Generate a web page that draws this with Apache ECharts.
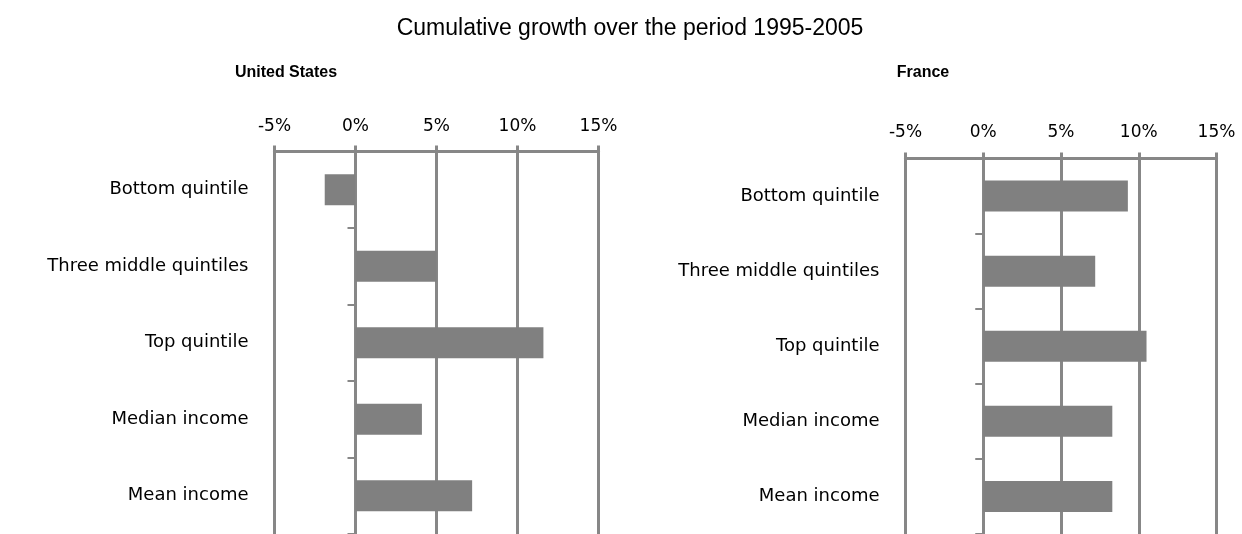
<!DOCTYPE html>
<html>
<head>
<meta charset="utf-8">
<script src="https://cdn.jsdelivr.net/npm/echarts@6/dist/echarts.min.js"></script>
<style>
    html, body { margin: 0; padding: 0; background: #fff; }
    #growthChart { width: 1242px; height: 534px; }
</style>
</head>
<body>
<div id="growthChart"></div>
<script>
// 数据
const categories = ['Bottom quintile', 'Three middle quintiles', 'Top quintile', 'Median income', 'Mean income'];
const usGrowth = [-1.9, 5.0, 11.6, 4.1, 7.2];
const franceGrowth = [9.3, 7.2, 10.5, 8.3, 8.3];
const panelNames = ['United States', 'France'];

const gridColor = '#878787';
const barColor = '#808080';
const labelFont = '"DejaVu Sans", sans-serif';
const titleFont = '"Liberation Sans", Arial, sans-serif';

/**
 * 值轴（顶部）
 */
function valueAxis(gridIndex, labelMargin) {
    return {
        type: 'value',
        gridIndex: gridIndex,
        position: 'top',
        min: -5,
        max: 15,
        interval: 5,
        axisLine: {show: true, lineStyle: {color: gridColor, width: 3}},
        axisTick: {show: true, length: 6, lineStyle: {color: gridColor, width: 3}},
        axisLabel: {
            formatter: '{value}%',
            margin: labelMargin,
            color: '#000',
            fontFamily: labelFont,
            fontSize: 17
        },
        splitLine: {show: true, lineStyle: {color: gridColor, width: 3}}
    };
}

/**
 * 类目轴（线在 0% 处）
 */
function categoryAxis(gridIndex) {
    return {
        type: 'category',
        gridIndex: gridIndex,
        inverse: true,
        data: categories,
        axisLine: {show: true, onZero: true, lineStyle: {color: gridColor, width: 3}},
        axisTick: {show: true, length: 8, lineStyle: {color: gridColor, width: 2}},
        axisLabel: {
            margin: 26,
            color: '#000',
            fontFamily: labelFont,
            fontSize: 18
        },
        splitLine: {show: false}
    };
}

let growthChart = echarts.init(document.getElementById('growthChart'), null, {renderer: 'canvas'});

let growthChartOption = {
    animation: false,
    backgroundColor: '#fff',
    title: [
        {
            text: 'Cumulative growth over the period 1995-2005',
            left: 625,
            textAlign: 'center',
            top: 12,
            textStyle: {fontFamily: titleFont, fontSize: 23, fontWeight: 'normal', color: '#000'}
        },
        {
            text: panelNames[0],
            left: 281,
            textAlign: 'center',
            top: 60,
            textStyle: {fontFamily: titleFont, fontSize: 16, fontWeight: 'bold', color: '#000'}
        },
        {
            text: panelNames[1],
            left: 918,
            textAlign: 'center',
            top: 60,
            textStyle: {fontFamily: titleFont, fontSize: 16, fontWeight: 'bold', color: '#000'}
        }
    ],
    grid: [
        {left: 274.5, top: 151.5, width: 324, height: 387.5},
        {left: 905.5, top: 158.5, width: 311, height: 381.5}
    ],
    xAxis: [valueAxis(0, 16), valueAxis(1, 17)],
    yAxis: [categoryAxis(0), categoryAxis(1)],
    series: [
        {
            name: panelNames[0],
            type: 'bar',
            xAxisIndex: 0,
            yAxisIndex: 0,
            barWidth: 31,
            itemStyle: {color: barColor},
            data: usGrowth
        },
        {
            name: panelNames[1],
            type: 'bar',
            xAxisIndex: 1,
            yAxisIndex: 1,
            barWidth: 31,
            itemStyle: {color: barColor},
            data: franceGrowth
        }
    ]
};

growthChart.setOption(growthChartOption);
</script>
</body>
</html>
